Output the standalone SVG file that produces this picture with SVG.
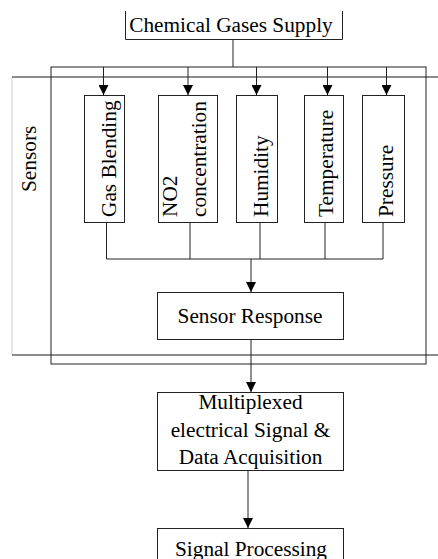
<svg xmlns="http://www.w3.org/2000/svg" width="438" height="559" viewBox="0 0 438 559">
  <defs>
    <marker id="arrow" viewBox="0 0 10 10" refX="10" refY="5" markerWidth="10" markerHeight="10" markerUnits="userSpaceOnUse" orient="auto">
      <path d="M0,0 L10,5 L0,10 Z" fill="#000"/>
    </marker>
  </defs>
  <style>
    .box { fill: #fff; stroke: #222; stroke-width: 1; }
    .line { fill: none; stroke: #222; stroke-width: 1; }
    .arrow { fill: none; stroke: #222; stroke-width: 1; marker-end: url(#arrow); }
    .band { fill: none; stroke: #666; stroke-width: 1.6; }
    .faint { fill: none; stroke: #ccc; stroke-width: 1; }
    .mid { text-anchor: middle; }
  </style>
  <rect width="438" height="559" fill="#fff"/>

  <g font-family="Liberation Serif, DejaVu Serif, serif" font-size="21.3" fill="#000">

  <!-- Sensors band: horizontal rules and faint left edge -->
  <g id="sensors-band">
    <line class="faint" x1="12" y1="77" x2="12" y2="355"/>
    <line class="band" x1="12" y1="77" x2="438" y2="77"/>
    <line class="band" x1="12" y1="355" x2="438" y2="355"/>
    <text transform="translate(36,192) rotate(-90)">Sensors</text>
  </g>

  <!-- Enclosing frame of the sensor stage -->
  <g id="sensor-frame">
    <rect class="line" x="51" y="67" width="375" height="297"/>
  </g>

  <g id="connectors">
    <line class="line" x1="233" y1="39" x2="233" y2="67"/>
    <line class="arrow" x1="103.5" y1="67" x2="103.5" y2="95"/>
    <line class="arrow" x1="188" y1="67" x2="188" y2="95"/>
    <line class="arrow" x1="256.5" y1="67" x2="256.5" y2="95"/>
    <line class="arrow" x1="327.5" y1="67" x2="327.5" y2="95"/>
    <line class="arrow" x1="386.5" y1="67" x2="386.5" y2="95"/>
    <line class="line" x1="106.5" y1="222" x2="106.5" y2="259"/>
    <line class="line" x1="190" y1="222" x2="190" y2="259"/>
    <line class="line" x1="260" y1="222" x2="260" y2="259"/>
    <line class="line" x1="325" y1="222" x2="325" y2="259"/>
    <line class="line" x1="383" y1="222" x2="383" y2="259"/>
    <line class="line" x1="106.5" y1="259" x2="383" y2="259"/>
    <line class="arrow" x1="251" y1="259" x2="251" y2="292"/>
    <line class="arrow" x1="251" y1="340" x2="251" y2="392"/>
    <line class="arrow" x1="248" y1="471" x2="248" y2="528"/>
  </g>

  <g id="chemical-gases-supply">
    <path class="line" d="M125.5,11 V39.5 H342.5 V11"/>
    <text class="mid" x="231" y="32">Chemical Gases Supply</text>
  </g>

  <g id="gas-blending">
    <rect class="box" x="84.5" y="95.5" width="40" height="127"/>
    <text transform="translate(116,217) rotate(-90)">Gas Blending</text>
  </g>

  <g id="no2-concentration">
    <rect class="box" x="158.5" y="95.5" width="59" height="127"/>
    <text transform="translate(177,217) rotate(-90)">NO2</text>
    <text transform="translate(206,217) rotate(-90)">concentration</text>
  </g>

  <g id="humidity">
    <rect class="box" x="236.5" y="95.5" width="41" height="127"/>
    <text transform="translate(268,217) rotate(-90)">Humidity</text>
  </g>

  <g id="temperature">
    <rect class="box" x="304.5" y="95.5" width="39" height="127"/>
    <text transform="translate(333,217) rotate(-90)">Temperature</text>
  </g>

  <g id="pressure">
    <rect class="box" x="362.5" y="95.5" width="42" height="127"/>
    <text transform="translate(393,217) rotate(-90)">Pressure</text>
  </g>

  <g id="sensor-response">
    <rect class="box" x="157.5" y="292.5" width="186" height="47"/>
    <text class="mid" x="250" y="323">Sensor Response</text>
  </g>

  <g id="multiplexed-acquisition">
    <rect class="box" x="157.5" y="392.5" width="186" height="78"/>
    <text class="mid" x="250.5" y="409">Multiplexed</text>
    <text class="mid" x="250.5" y="437">electrical Signal &amp;</text>
    <text class="mid" x="250.5" y="464">Data Acquisition</text>
  </g>

  <g id="signal-processing">
    <rect class="box" x="157.5" y="528.5" width="186" height="40"/>
    <text class="mid" x="251" y="556">Signal Processing</text>
  </g>

  </g>
</svg>
